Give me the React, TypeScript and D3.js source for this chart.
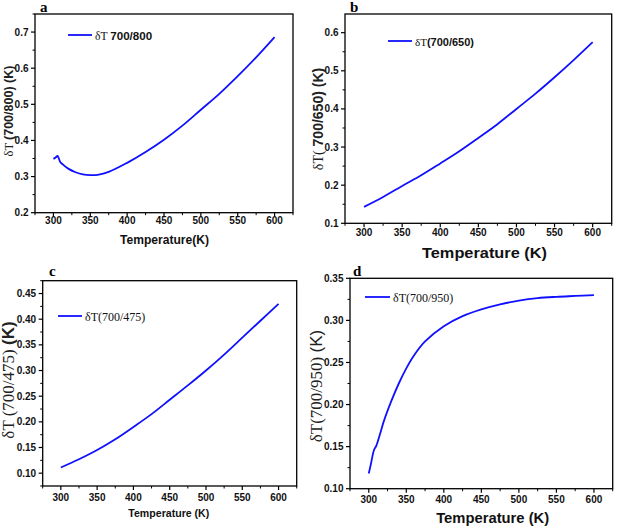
import React from "react";
import * as d3 from "d3";

// ---------- DATA ----------
const tempA = [300, 303, 305.5, 307, 309, 313, 320, 330, 340, 350, 360, 375, 400, 425, 450, 475, 500, 525, 550, 575, 600];
const deltaA = [0.349, 0.353, 0.357, 0.352, 0.341, 0.333, 0.322, 0.312, 0.306, 0.304, 0.305, 0.313, 0.338, 0.368, 0.402, 0.441, 0.485, 0.529, 0.578, 0.63, 0.686];

const tempB = [300, 325, 350, 375, 400, 425, 450, 475, 500, 525, 550, 575, 600];
const deltaB = [0.143, 0.169, 0.198, 0.226, 0.257, 0.289, 0.324, 0.36, 0.4, 0.44, 0.483, 0.528, 0.575];

const tempC = [300, 325, 350, 375, 400, 425, 450, 475, 500, 525, 550, 575, 600];
const deltaC = [0.111, 0.127, 0.145, 0.166, 0.19, 0.215, 0.243, 0.271, 0.3, 0.331, 0.364, 0.397, 0.43];

const tempD = [300, 303, 307, 310, 315, 320, 330, 340, 350, 360, 375, 400, 425, 450, 475, 500, 525, 550, 575, 600];
const deltaD = [0.118, 0.13, 0.146, 0.151, 0.165, 0.18, 0.204, 0.225, 0.243, 0.258, 0.275, 0.293, 0.305, 0.313, 0.319, 0.3235, 0.3265, 0.328, 0.329, 0.33];

const xTickValues = [300, 350, 400, 450, 500, 550, 600];
const yTicksA = [0.2, 0.3, 0.4, 0.5, 0.6, 0.7];
const yTicksB = [0.1, 0.2, 0.3, 0.4, 0.5, 0.6];
const yTicksC = [0.1, 0.15, 0.2, 0.25, 0.3, 0.35, 0.4, 0.45];
const yTicksD = [0.1, 0.15, 0.2, 0.25, 0.3, 0.35];

const xTitleA = "Temperature(K)";
const xTitleB = "Temperature (K)";
const xTitleC = "Temperature (K)";
const xTitleD = "Temperature (K)";

const SERIF = "'Liberation Serif', 'DejaVu Serif', serif";
const SANS = "'Liberation Sans', Arial, sans-serif";
const BLUE = "#1010ff";

type Part = { t: string; f: "serif" | "sans" | "sansb" };

const fontOf = (f: Part["f"]) =>
  f === "serif"
    ? { fontFamily: SERIF, fontWeight: 400 }
    : f === "sansb"
    ? { fontFamily: SANS, fontWeight: 700 }
    : { fontFamily: SANS, fontWeight: 400 };

type PanelCfg = {
  letter: string;
  temps: number[];
  vals: number[];
  xDomain: [number, number];
  yDomain: [number, number];
  yTicks: number[];
  yMinorStep: number;
  yFmt: string;
  frame: { l: number; r: number; t: number; b: number };
  letterPos: [number, number];
  xTitle: string;
  xTitlePos: [number, number];
  xTitleLen: number;
  xTitleSize: number;
  xLabelBase: number;
  yTitle: Part[];
  yTitlePos: [number, number];
  yTitleLen: number;
  yTitleSize: number;
  legend: Part[];
  legendLine: [number, number, number];
  legendSize: number;
};

const panels: PanelCfg[] = [
  {
    letter: "a",
    temps: tempA,
    vals: deltaA,
    xDomain: [275, 625],
    yDomain: [0.2, 0.75],
    yTicks: yTicksA,
    yMinorStep: 0.05,
    yFmt: ".1f",
    frame: { l: 35, r: 293, t: 14, b: 212.7 },
    letterPos: [40, 11.5],
    xTitle: xTitleA,
    xTitlePos: [164.5, 243.5],
    xTitleLen: 89,
    xTitleSize: 12,
    xLabelBase: 224,
    yTitle: [
      { t: "δT ", f: "serif" },
      { t: "(700/800) (K)", f: "sansb" },
    ],
    yTitlePos: [13, 111],
    yTitleLen: 92,
    yTitleSize: 12.5,
    legend: [
      { t: "δT ", f: "serif" },
      { t: "700/800", f: "sansb" },
    ],
    legendLine: [68, 92, 35],
    legendSize: 11.6,
  },
  {
    letter: "b",
    temps: tempB,
    vals: deltaB,
    xDomain: [275, 625],
    yDomain: [0.1, 0.649],
    yTicks: yTicksB,
    yMinorStep: 0.05,
    yFmt: ".1f",
    frame: { l: 345, r: 611.7, t: 14, b: 223.3 },
    letterPos: [350, 11.5],
    xTitle: xTitleB,
    xTitlePos: [484.5, 257.5],
    xTitleLen: 125,
    xTitleSize: 15,
    xLabelBase: 236,
    yTitle: [
      { t: "δT(", f: "serif" },
      { t: " 700/650)  (K)", f: "sansb" },
    ],
    yTitlePos: [323, 119],
    yTitleLen: 108,
    yTitleSize: 14,
    legend: [
      { t: "δT", f: "serif" },
      { t: "(700/650)", f: "sansb" },
    ],
    legendLine: [388, 412, 41],
    legendSize: 11,
  },
  {
    letter: "c",
    temps: tempC,
    vals: deltaC,
    xDomain: [275, 625],
    yDomain: [0.075, 0.475],
    yTicks: yTicksC,
    yMinorStep: 0.025,
    yFmt: ".2f",
    frame: { l: 42.7, r: 296.7, t: 280.7, b: 486 },
    letterPos: [49, 276],
    xTitle: xTitleC,
    xTitlePos: [168.8, 517],
    xTitleLen: 81,
    xTitleSize: 11,
    xLabelBase: 501,
    yTitle: [
      { t: "δT (700/475) ", f: "serif" },
      { t: "(K)", f: "sansb" },
    ],
    yTitlePos: [14, 380],
    yTitleLen: 125,
    yTitleSize: 17,
    legend: [{ t: "δT(700/475)", f: "serif" }],
    legendLine: [58, 82, 316],
    legendSize: 12,
  },
  {
    letter: "d",
    temps: tempD,
    vals: deltaD,
    xDomain: [275, 625],
    yDomain: [0.1, 0.35],
    yTicks: yTicksD,
    yMinorStep: 0.025,
    yFmt: ".2f",
    frame: { l: 350, r: 612.7, t: 278.3, b: 488.7 },
    letterPos: [353, 276],
    xTitle: xTitleD,
    xTitlePos: [492.7, 523],
    xTitleLen: 113,
    xTitleSize: 14,
    xLabelBase: 503,
    yTitle: [
      { t: "δT(700/950) ", f: "serif" },
      { t: "(K)", f: "sans" },
    ],
    yTitlePos: [322, 386],
    yTitleLen: 118,
    yTitleSize: 17,
    legend: [{ t: "δT(700/950)", f: "serif" }],
    legendLine: [365, 390, 297],
    legendSize: 12,
  },
];

function Panel({ p }: { p: PanelCfg }) {
  const { frame } = p;
  const x = d3.scaleLinear().domain(p.xDomain).range([frame.l, frame.r]);
  const y = d3.scaleLinear().domain(p.yDomain).range([frame.b, frame.t]);
  const pts = p.temps.map((t, i) => [t, p.vals[i]] as [number, number]);
  const line = d3
    .line<[number, number]>()
    .x((d) => x(d[0]))
    .y((d) => y(d[1]))
    .curve(d3.curveCatmullRom.alpha(0.5));
  const fmt = d3.format(p.yFmt);

  const xMinor = d3.range(275, 626, 25).filter((v) => !xTickValues.includes(v) && v >= p.xDomain[0] && v <= p.xDomain[1]);
  const yMinor: number[] = [];
  for (let v = p.yTicks[0] - p.yMinorStep * 4; v <= p.yDomain[1] + 1e-9; v += p.yMinorStep) {
    const r = Math.round(v * 1000) / 1000;
    if (r < p.yDomain[0] - 1e-9) continue;
    if (p.yTicks.some((t) => Math.abs(t - r) < 1e-6)) continue;
    yMinor.push(r);
  }

  return (
    <g>
      {xTickValues.map((v) => (
        <line key={"xt" + v} x1={x(v)} x2={x(v)} y1={frame.b} y2={frame.b + 4} stroke="#000" strokeWidth={1.2} />
      ))}
      {xMinor.map((v) => (
        <line key={"xm" + v} x1={x(v)} x2={x(v)} y1={frame.b} y2={frame.b + 2.5} stroke="#000" strokeWidth={1} />
      ))}
      {p.yTicks.map((v) => (
        <line key={"yt" + v} x1={frame.l - 4} x2={frame.l} y1={y(v)} y2={y(v)} stroke="#000" strokeWidth={1.2} />
      ))}
      {yMinor.map((v) => (
        <line key={"ym" + v} x1={frame.l - 2.5} x2={frame.l} y1={y(v)} y2={y(v)} stroke="#000" strokeWidth={1} />
      ))}
      {xTickValues.map((v) => (
        <text key={"xl" + v} x={x(v)} y={p.xLabelBase} textAnchor="middle" fontFamily={SANS} fontWeight={700} fontSize={10} fill="#111">
          {v}
        </text>
      ))}
      {p.yTicks.map((v) => (
        <text key={"yl" + v} x={frame.l - 6.5} y={y(v) + 3.5} textAnchor="end" fontFamily={SANS} fontWeight={700} fontSize={10} fill="#111">
          {fmt(v)}
        </text>
      ))}
      <rect x={frame.l} y={frame.t} width={frame.r - frame.l} height={frame.b - frame.t} fill="none" stroke="#000" strokeWidth={1.3} />
      <path d={line(pts) || ""} fill="none" stroke={BLUE} strokeWidth={1.8} strokeLinejoin="round" />
      <line x1={p.legendLine[0]} x2={p.legendLine[1]} y1={p.legendLine[2]} y2={p.legendLine[2]} stroke={BLUE} strokeWidth={1.8} />
      <text x={p.legendLine[1] + 3} y={p.legendLine[2] + 4.5} fontSize={p.legendSize} fill="#111">
        {p.legend.map((pt, i) => (
          <tspan key={i} {...fontOf(pt.f)}>
            {pt.t}
          </tspan>
        ))}
      </text>
      <text x={p.letterPos[0]} y={p.letterPos[1]} fontFamily={SERIF} fontWeight={700} fontSize={15} fill="#000">
        {p.letter}
      </text>
      <text
        x={p.xTitlePos[0]}
        y={p.xTitlePos[1]}
        textAnchor="middle"
        fontFamily={SANS}
        fontWeight={700}
        fontSize={p.xTitleSize}
        fill="#111"
        textLength={p.xTitleLen}
        lengthAdjust="spacingAndGlyphs"
      >
        {p.xTitle}
      </text>
      <text
        transform={`translate(${p.yTitlePos[0]},${p.yTitlePos[1]}) rotate(-90)`}
        textAnchor="middle"
        fontSize={p.yTitleSize}
        fill="#222"
      >
        {p.yTitle.map((pt, i) => (
          <tspan key={i} {...fontOf(pt.f)}>
            {pt.t}
          </tspan>
        ))}
      </text>
    </g>
  );
}

export default function App() {
  return (
    <svg
      width={620}
      height={527}
      viewBox="0 0 620 527"
      style={{ position: "absolute", left: 0, top: 0, background: "#fff" }}
    >
      <rect x={0} y={0} width={620} height={527} fill="#fff" />
      {panels.map((p) => (
        <Panel key={p.letter} p={p} />
      ))}
    </svg>
  );
}
